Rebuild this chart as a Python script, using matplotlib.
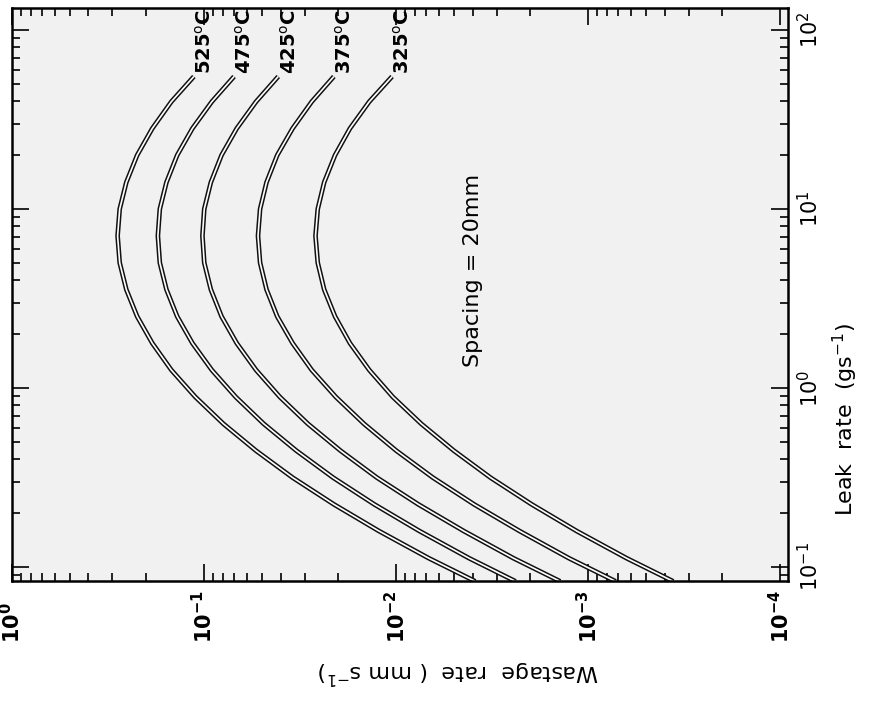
import matplotlib
matplotlib.use('Agg')
import matplotlib.pyplot as plt
from matplotlib.ticker import LogLocator, NullFormatter

# leak rate (g/s) along each curve
leak = [0.0832, 0.112, 0.159, 0.224, 0.316, 0.447, 0.631, 0.891, 1.26, 1.78,
        2.51, 3.55, 5.01, 7.08, 10.0, 14.1, 20.0, 28.2, 39.8, 55.0]

# wastage rate (mm/s) for each temperature
w525 = [0.00387, 0.00676, 0.0123, 0.0211, 0.0346, 0.0537, 0.0793, 0.111, 0.148, 0.186,
        0.223, 0.254, 0.275, 0.282, 0.275, 0.254, 0.223, 0.186, 0.148, 0.113]
w475 = [0.00239, 0.00417, 0.00757, 0.0130, 0.0213, 0.0331, 0.0489, 0.0684, 0.0911, 0.115,
        0.138, 0.157, 0.170, 0.174, 0.170, 0.157, 0.138, 0.115, 0.0911, 0.0698]
w425 = [0.00140, 0.00245, 0.00445, 0.00767, 0.0126, 0.0195, 0.0288, 0.0403, 0.0536, 0.0676,
        0.0811, 0.0922, 0.0998, 0.102, 0.0998, 0.0922, 0.0811, 0.0676, 0.0536, 0.0411]
w375 = [0.000720, 0.00126, 0.00228, 0.00393, 0.00644, 0.00999, 0.0147, 0.0206, 0.0275, 0.0346,
        0.0416, 0.0473, 0.0511, 0.0524, 0.0511, 0.0473, 0.0416, 0.0346, 0.0275, 0.0211]
w325 = [0.000361, 0.000631, 0.00115, 0.00197, 0.00323, 0.00501, 0.00740, 0.0104, 0.0138, 0.0174,
        0.0208, 0.0237, 0.0256, 0.0263, 0.0256, 0.0237, 0.0208, 0.0174, 0.0138, 0.0105]

curves = [w525, w475, w425, w375, w325]
temps = ['525', '475', '425', '375', '325']

w_ticks = [1, 1e-1, 1e-2, 1e-3, 1e-4]
w_labels = ['$10^{0}$', '$10^{-1}$', '$10^{-2}$', '$10^{-3}$', '$10^{-4}$']
l_ticks = [1e-1, 1, 10, 100]
l_labels = ['$10^{-1}$', '$10^{0}$', '$10^{1}$', '$10^{2}$']

plt.rcParams['mathtext.default'] = 'regular'

fig = plt.figure(figsize=(8.73, 7.02), dpi=100)
ax = fig.add_axes([12 / 873, 1 - 581 / 702, 776 / 873, 573 / 702])
ax.set_facecolor('#f1f1f1')
ax.set_xscale('log')
ax.set_yscale('log')
ax.set_xlim(1, 10 ** -4.04)
ax.set_ylim(10 ** -1.078, 10 ** 2.123)

for w, t in zip(curves, temps):
    ax.plot(w, leak, color='#111111', lw=3.4, solid_capstyle='butt', solid_joinstyle='round')
    ax.plot(w, leak, color='white', lw=1.2, solid_capstyle='butt', solid_joinstyle='round')
    ax.annotate(t + r'$^{\rm o}$C', xy=(w[-1], leak[-1]), xytext=(8, 2),
                textcoords='offset points', rotation=90, ha='center', va='bottom',
                fontsize=14, fontweight='bold')

for a in (ax.xaxis, ax.yaxis):
    a.set_major_locator(LogLocator(base=10, numticks=20))
    a.set_minor_locator(LogLocator(base=10, subs=range(2, 10), numticks=20))
    a.set_minor_formatter(NullFormatter())
ax.tick_params(which='both', direction='in', top=True, right=True,
               labelbottom=False, labelleft=False, width=1.2)
ax.tick_params(which='major', length=12)
ax.tick_params(which='minor', length=6)
for s in ax.spines.values():
    s.set_linewidth(1.8)

# tick labels, rotated like the scanned page
for v, lab in zip(w_ticks, w_labels):
    ax.text(v, -0.108, lab, transform=ax.get_xaxis_transform(), rotation=90,
            ha='center', va='bottom', fontsize=15, fontweight='bold')
for v, lab in zip(l_ticks, l_labels):
    ax.text(1.012, v, lab, transform=ax.get_yaxis_transform(), rotation=90,
            ha='left', va='center', fontsize=15)

ax.text(0.004, 4.56, 'Spacing = 20mm', rotation=90, ha='center', va='center', fontsize=16)

fig.text(458 / 873, 1 - 672 / 702, 'Wastage  rate  ( mm s$^{-1}$)', rotation=180,
         ha='center', va='center', fontsize=16)
fig.text(845 / 873, 1 - 420 / 702, 'Leak  rate  (gs$^{-1}$)', rotation=90,
         ha='center', va='center', fontsize=16)

fig.savefig('out.png', dpi=100)
